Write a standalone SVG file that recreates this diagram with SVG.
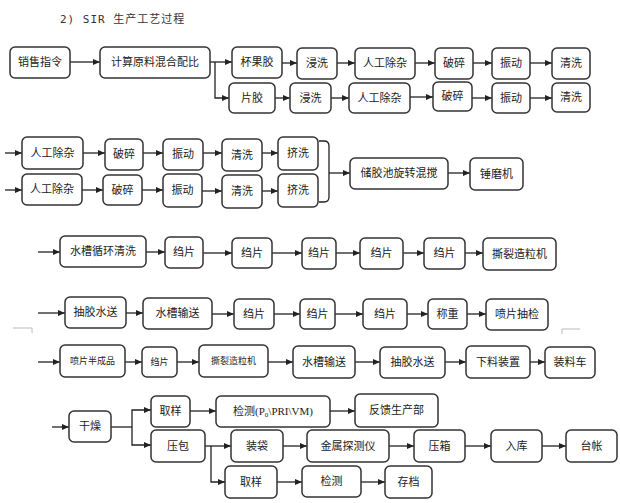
<svg xmlns="http://www.w3.org/2000/svg" width="620" height="503" viewBox="0 0 620 503">
<style>
.b rect{fill:#fff;stroke:#333;stroke-width:1.5}
.b text{font-family:"Noto Sans CJK SC","DejaVu Sans",sans-serif;font-size:11px;fill:#222;text-anchor:middle}
.b text.s{font-size:9px}
.b text.sf{font-family:"Liberation Serif","Noto Sans CJK SC",serif;font-size:11px}
.c line,.c path{stroke:#222;stroke-width:1.3;fill:none}
.c .a{marker-end:url(#ah)}
.g{stroke:#bbb;stroke-width:1;fill:none}
</style>
<defs>
<marker id="ah" markerUnits="userSpaceOnUse" markerWidth="8" markerHeight="8" refX="7" refY="4" orient="auto">
<path d="M0,1 L7,4 L0,7 z" fill="#222"/>
</marker>
</defs>
<rect width="620" height="503" fill="#fff"/>
<text x="60" y="23" font-family="'DejaVu Sans Mono','Noto Sans CJK SC',monospace" font-size="11" letter-spacing="1" fill="#333">2) SIR 生产工艺过程</text>

<g class="c">
<!-- row 1 -->
<line class="a" x1="70" y1="62" x2="100" y2="62"/>
<line class="a" x1="210" y1="62" x2="232" y2="62"/>
<path class="a" d="M215,62 V98 H229"/>
<line class="a" x1="282" y1="63" x2="297" y2="63"/>
<line class="a" x1="337" y1="63" x2="355" y2="63"/>
<line class="a" x1="415" y1="63" x2="435" y2="63"/>
<line class="a" x1="473" y1="63" x2="492" y2="63"/>
<line class="a" x1="530" y1="63" x2="552" y2="63"/>
<line class="a" x1="275" y1="98" x2="290" y2="98"/>
<line class="a" x1="331" y1="98" x2="349" y2="98"/>
<line class="a" x1="410" y1="97" x2="433" y2="97"/>
<line class="a" x1="472" y1="98" x2="492" y2="98"/>
<line class="a" x1="530" y1="98" x2="552" y2="98"/>
<!-- row 2 -->
<line class="a" x1="5" y1="153" x2="22" y2="153"/>
<line class="a" x1="83" y1="153" x2="105" y2="153"/>
<line class="a" x1="143" y1="153" x2="163" y2="153"/>
<line class="a" x1="203" y1="153" x2="222" y2="153"/>
<line class="a" x1="262" y1="153" x2="278" y2="153"/>
<line class="a" x1="5" y1="190" x2="22" y2="190"/>
<line class="a" x1="82" y1="190" x2="103" y2="190"/>
<line class="a" x1="142" y1="190" x2="163" y2="190"/>
<line class="a" x1="202" y1="191" x2="222" y2="191"/>
<line class="a" x1="262" y1="191" x2="278" y2="191"/>
<path d="M319,141 H324 Q329,141 329,146 V197 Q329,202 324,202 H319"/>
<line class="a" x1="329" y1="173" x2="350" y2="173"/>
<line class="a" x1="448" y1="173" x2="470" y2="173"/>
<!-- row 3 -->
<line class="a" x1="38" y1="252" x2="60" y2="252"/>
<line class="a" x1="146" y1="252" x2="165" y2="252"/>
<line class="a" x1="203" y1="253" x2="232" y2="253"/>
<line class="a" x1="272" y1="253" x2="302" y2="253"/>
<line class="a" x1="336" y1="253" x2="360" y2="253"/>
<line class="a" x1="403" y1="253" x2="424" y2="253"/>
<line class="a" x1="465" y1="253" x2="483" y2="253"/>
<!-- row 4 -->
<line class="a" x1="38" y1="313" x2="65" y2="313"/>
<line class="a" x1="126" y1="313" x2="143" y2="313"/>
<line class="a" x1="212" y1="314" x2="234" y2="314"/>
<line class="a" x1="274" y1="314" x2="300" y2="314"/>
<line class="a" x1="335" y1="314" x2="363" y2="314"/>
<line class="a" x1="407" y1="314" x2="428" y2="314"/>
<line class="a" x1="467" y1="314" x2="486" y2="314"/>
<!-- row 5 -->
<line class="a" x1="38" y1="362" x2="60" y2="362"/>
<line class="a" x1="125" y1="362" x2="142" y2="362"/>
<line class="a" x1="177" y1="362" x2="199" y2="362"/>
<line class="a" x1="268" y1="362" x2="293" y2="362"/>
<line class="a" x1="355" y1="362" x2="380" y2="362"/>
<line class="a" x1="445" y1="362" x2="466" y2="362"/>
<line class="a" x1="530" y1="362" x2="545" y2="362"/>
<!-- row 6 -->
<line class="a" x1="52" y1="427" x2="69" y2="427"/>
<path d="M111,427 H132"/>
<path class="a" d="M132,427 V410 H151"/>
<path class="a" d="M132,427 V445 H151"/>
<line class="a" x1="190" y1="411" x2="216" y2="411"/>
<line class="a" x1="330" y1="411" x2="355" y2="411"/>
<path d="M205,446 H211"/>
<line class="a" x1="211" y1="446" x2="231" y2="446"/>
<path class="a" d="M211,446 V482 H225"/>
<line class="a" x1="283" y1="446" x2="307" y2="446"/>
<line class="a" x1="389" y1="446" x2="414" y2="446"/>
<line class="a" x1="465" y1="446" x2="491" y2="446"/>
<line class="a" x1="542" y1="446" x2="566" y2="446"/>
<line class="a" x1="277" y1="482" x2="302" y2="482"/>
<line class="a" x1="361" y1="482" x2="385" y2="482"/>
</g>

<path class="g" d="M13,328 H32 V333"/>
<path class="g" d="M580,329 H562 V334"/>

<!-- row 1 -->
<g id="n1" class="b"><rect x="10" y="47" width="60" height="31" rx="5"/><text x="40" y="66">销售指令</text></g>
<g id="n2" class="b"><rect x="100" y="47" width="110" height="31" rx="5"/><text x="155" y="66">计算原料混合配比</text></g>
<g id="n3" class="b"><rect x="232" y="47" width="50" height="31" rx="5"/><text x="257" y="66">杯果胶</text></g>
<g id="n4" class="b"><rect x="297" y="48" width="40" height="31" rx="5"/><text x="317" y="67">浸洗</text></g>
<g id="n5" class="b"><rect x="355" y="48" width="60" height="31" rx="5"/><text x="385" y="67">人工除杂</text></g>
<g id="n6" class="b"><rect x="435" y="48" width="38" height="31" rx="5"/><text x="454" y="67">破碎</text></g>
<g id="n7" class="b"><rect x="492" y="48" width="38" height="31" rx="5"/><text x="511" y="67">振动</text></g>
<g id="n8" class="b"><rect x="552" y="48" width="38" height="31" rx="5"/><text x="571" y="67">清洗</text></g>
<g id="n9" class="b"><rect x="229" y="83" width="46" height="30" rx="5"/><text x="252" y="102">片胶</text></g>
<g id="n10" class="b"><rect x="290" y="83" width="41" height="30" rx="5"/><text x="310.5" y="102">浸洗</text></g>
<g id="n11" class="b"><rect x="349" y="83" width="61" height="30" rx="5"/><text x="379.5" y="102">人工除杂</text></g>
<g id="n12" class="b"><rect x="433" y="82" width="39" height="29" rx="5"/><text x="452.5" y="100">破碎</text></g>
<g id="n13" class="b"><rect x="492" y="83" width="38" height="30" rx="5"/><text x="511" y="102">振动</text></g>
<g id="n14" class="b"><rect x="552" y="83" width="38" height="29" rx="5"/><text x="571" y="101">清洗</text></g>

<!-- row 2 -->
<g id="n15" class="b"><rect x="22" y="137" width="61" height="32" rx="5"/><text x="52.5" y="157">人工除杂</text></g>
<g id="n16" class="b"><rect x="105" y="139" width="38" height="31" rx="5"/><text x="124" y="158">破碎</text></g>
<g id="n17" class="b"><rect x="163" y="139" width="40" height="31" rx="5"/><text x="183" y="158">振动</text></g>
<g id="n18" class="b"><rect x="222" y="139" width="40" height="32" rx="5"/><text x="242" y="159">清洗</text></g>
<g id="n19" class="b"><rect x="278" y="137" width="40" height="33" rx="5"/><text x="298" y="157">挤洗</text></g>
<g id="n20" class="b"><rect x="22" y="174" width="60" height="31" rx="5"/><text x="52" y="193">人工除杂</text></g>
<g id="n21" class="b"><rect x="103" y="175" width="39" height="30" rx="5"/><text x="122.5" y="194">破碎</text></g>
<g id="n22" class="b"><rect x="163" y="174" width="39" height="33" rx="5"/><text x="182.5" y="194">振动</text></g>
<g id="n23" class="b"><rect x="222" y="175" width="40" height="33" rx="5"/><text x="242" y="195">清洗</text></g>
<g id="n24" class="b"><rect x="278" y="174" width="40" height="33" rx="5"/><text x="298" y="194">挤洗</text></g>
<g id="n25" class="b"><rect x="350" y="158" width="98" height="31" rx="5"/><text x="399" y="177">储胶池旋转混搅</text></g>
<g id="n26" class="b"><rect x="470" y="158" width="53" height="32" rx="5"/><text x="496.5" y="178">锤磨机</text></g>

<!-- row 3 -->
<g id="n27" class="b"><rect x="60" y="236" width="86" height="31" rx="5"/><text x="103" y="255">水槽循环清洗</text></g>
<g id="n28" class="b"><rect x="165" y="237" width="38" height="31" rx="5"/><text x="184" y="256">绉片</text></g>
<g id="n29" class="b"><rect x="232" y="238" width="40" height="30" rx="5"/><text x="252" y="257">绉片</text></g>
<g id="n30" class="b"><rect x="302" y="238" width="34" height="31" rx="5"/><text x="319" y="257">绉片</text></g>
<g id="n31" class="b"><rect x="360" y="238" width="43" height="31" rx="5"/><text x="381.5" y="257">绉片</text></g>
<g id="n32" class="b"><rect x="424" y="238" width="41" height="31" rx="5"/><text x="444.5" y="257">绉片</text></g>
<g id="n33" class="b"><rect x="483" y="238" width="73" height="32" rx="5"/><text x="519.5" y="258">撕裂造粒机</text></g>

<!-- row 4 -->
<g id="n34" class="b"><rect x="65" y="297" width="61" height="31" rx="5"/><text x="95.5" y="316">抽胶水送</text></g>
<g id="n35" class="b"><rect x="143" y="298" width="69" height="31" rx="5"/><text x="177.5" y="317">水槽输送</text></g>
<g id="n36" class="b"><rect x="234" y="299" width="40" height="30" rx="5"/><text x="254" y="318">绉片</text></g>
<g id="n37" class="b"><rect x="300" y="299" width="35" height="30" rx="5"/><text x="317.5" y="318">绉片</text></g>
<g id="n38" class="b"><rect x="363" y="299" width="44" height="30" rx="5"/><text x="385" y="318">绉片</text></g>
<g id="n39" class="b"><rect x="428" y="299" width="39" height="30" rx="5"/><text x="447.5" y="318">称重</text></g>
<g id="n40" class="b"><rect x="486" y="299" width="62" height="31" rx="5"/><text x="517" y="318">喷片抽检</text></g>

<!-- row 5 -->
<g id="n41" class="b"><rect x="60" y="345" width="65" height="32" rx="5"/><text class="s" x="92.5" y="364">喷片半成品</text></g>
<g id="n42" class="b"><rect x="142" y="347" width="35" height="30" rx="5"/><text class="s" x="159.5" y="365">绉片</text></g>
<g id="n43" class="b"><rect x="199" y="345" width="69" height="32" rx="5"/><text class="s" x="233.5" y="364">撕裂造粒机</text></g>
<g id="n44" class="b"><rect x="293" y="346" width="62" height="32" rx="5"/><text x="324" y="366">水槽输送</text></g>
<g id="n45" class="b"><rect x="380" y="347" width="65" height="31" rx="5"/><text x="412.5" y="366">抽胶水送</text></g>
<g id="n46" class="b"><rect x="466" y="346" width="64" height="32" rx="5"/><text x="498" y="366">下料装置</text></g>
<g id="n47" class="b"><rect x="545" y="347" width="50" height="31" rx="5"/><text x="570" y="366">装料车</text></g>

<!-- row 6 -->
<g id="n48" class="b"><rect x="69" y="411" width="42" height="31" rx="5"/><text x="90" y="430">干燥</text></g>
<g id="n49" class="b"><rect x="151" y="396" width="39" height="31" rx="5"/><text x="170.5" y="415">取样</text></g>
<g id="n50" class="b"><rect x="151" y="430" width="54" height="32" rx="5"/><text x="178" y="450">压包</text></g>
<g id="n51" class="b"><rect x="216" y="396" width="114" height="31" rx="5"/><text class="sf" x="273" y="415">检测(P<tspan font-size="7" dy="2">0</tspan><tspan dy="-2">\PRI\VM)</tspan></text></g>
<g id="n52" class="b"><rect x="355" y="394" width="83" height="33" rx="5"/><text x="396.5" y="414">反馈生产部</text></g>
<g id="n53" class="b"><rect x="231" y="430" width="52" height="32" rx="5"/><text x="257" y="450">装袋</text></g>
<g id="n54" class="b"><rect x="307" y="430" width="82" height="32" rx="5"/><text x="348" y="450">金属探测仪</text></g>
<g id="n55" class="b"><rect x="414" y="430" width="51" height="32" rx="5"/><text x="439.5" y="450">压箱</text></g>
<g id="n56" class="b"><rect x="491" y="430" width="51" height="32" rx="5"/><text x="516.5" y="450">入库</text></g>
<g id="n57" class="b"><rect x="566" y="430" width="51" height="32" rx="5"/><text x="591.5" y="450">台帐</text></g>
<g id="n58" class="b"><rect x="225" y="466" width="52" height="32" rx="5"/><text x="251" y="486">取样</text></g>
<g id="n59" class="b"><rect x="302" y="466" width="59" height="31" rx="5"/><text x="331.5" y="485">检测</text></g>
<g id="n60" class="b"><rect x="385" y="466" width="47" height="32" rx="5"/><text x="408.5" y="486">存档</text></g>
</svg>
